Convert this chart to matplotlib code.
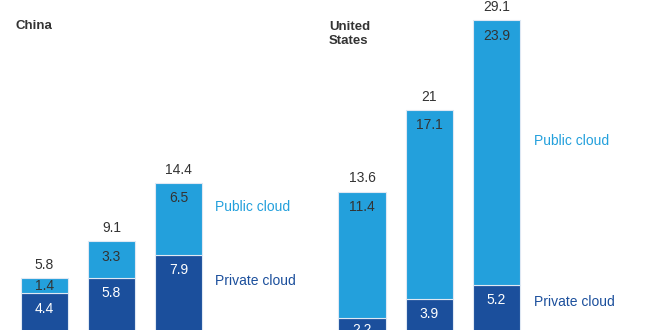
import matplotlib.pyplot as plt
import numpy as np

plt.rcParams['font.family'] = ['Liberation Sans', 'DejaVu Sans']

china_private = [4.4, 5.8, 7.9]
china_public = [1.4, 3.3, 6.5]
china_total = ['5.8', '9.1', '14.4']

us_private = [2.2, 3.9, 5.2]
us_public = [11.4, 17.1, 23.9]
us_total = ['13.6', '21', '29.1']

dark = '#1b4f9c'
light = '#23a0dc'
grey = '#333333'

fig = plt.figure(figsize=(6.6, 3.3), dpi=100)

# both panels share one value scale; the bar bases sit just below the picture
ylim = (1.09, 30.95)


def panel(left, xlim, private, public, totals, pub_y, priv_y):
    ax = fig.add_axes([left, 0, 0.5, 1])
    x = np.arange(len(private))
    ax.bar(x, private, 0.7, color=dark, edgecolor='#dfe8f3', linewidth=0.8)
    ax.bar(x, public, 0.7, bottom=private, color=light, edgecolor='#dfe8f3', linewidth=0.8)
    ax.set_xlim(*xlim)
    ax.set_ylim(*ylim)
    ax.axis('off')
    for i in range(len(x)):
        top = private[i] + public[i]
        # totals above each bar
        ax.annotate(totals[i], (x[i], top), xytext=(0, 4.5), textcoords='offset points',
                    ha='center', va='bottom', fontsize=10, color=grey)
        # public segment label
        y = top - min(1.4, public[i] / 2)
        ax.text(x[i], y, f'{public[i]:.1f}', ha='center', va='center', fontsize=10, color=grey)
        # private segment label
        y = private[i] - min(1.4, private[i] / 2)
        ax.text(x[i], y, f'{private[i]:.1f}', ha='center', va='center', fontsize=10, color='white')
    ax.text(2.55, pub_y, 'Public cloud', ha='left', va='center', fontsize=10, color=light)
    ax.text(2.55, priv_y, 'Private cloud', ha='left', va='center', fontsize=10, color=dark)
    return ax


ax1 = panel(0.0, (-0.664, 4.26), china_private, china_public, china_total, 12.2, 5.5)
ax2 = panel(0.5, (-0.476, 4.43), us_private, us_public, us_total, 18.2, 3.6)

fig.text(16 / 660, 1 - 26 / 330, 'China', ha='left', va='center', fontsize=9.5,
         color=grey, fontweight='bold')
fig.text(329 / 660, 1 - 34 / 330, 'United\nStates', ha='left', va='center', fontsize=9.5,
         color=grey, fontweight='bold', linespacing=1.25)

fig.savefig('out.png', dpi=100)
